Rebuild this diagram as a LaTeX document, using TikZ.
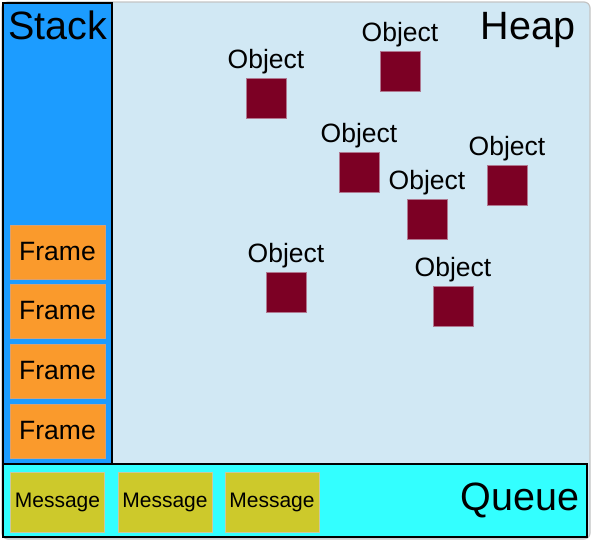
\documentclass[tikz,border=0pt]{standalone}
\usepackage{fontspec}
\setmainfont{Liberation Sans}
\definecolor{stackblue}{HTML}{1C9CFF}
\definecolor{heapblue}{HTML}{D1E8F4}
\definecolor{queuecyan}{HTML}{33FFFF}
\definecolor{frameorange}{HTML}{FA9A2C}
\definecolor{frameedge}{HTML}{D9A070}
\definecolor{msgyellow}{HTML}{CDC92B}
\definecolor{msgedge}{HTML}{C8C8A0}
\definecolor{objred}{HTML}{7C0024}
\definecolor{objedge}{HTML}{B07890}
\definecolor{outeredge}{HTML}{C4C4C4}
\begin{document}
\begin{tikzpicture}[x=1pt,y=-1pt,
  framebox/.style={draw=frameedge,line width=0.8pt,fill=frameorange,minimum width=95pt,minimum height=54pt,inner sep=0pt,font=\fontsize{26.5}{30}\selectfont},
  msgbox/.style={draw=msgedge,line width=0.8pt,fill=msgyellow,minimum width=94pt,minimum height=60pt,inner sep=0pt,font=\fontsize{21}{24}\selectfont},
  objbox/.style={draw=objedge,line width=0.6pt,fill=objred,minimum width=40pt,minimum height=40pt,inner sep=0pt},
  objlabel/.style={anchor=base,inner sep=0pt,font=\fontsize{26.5}{30}\selectfont},
  bigtitle/.style={anchor=base,inner sep=0pt,font=\fontsize{39.5}{44}\selectfont}]
\useasboundingbox (0,0) rectangle (594,542);
% heap / outer
\draw[outeredge,line width=1.2pt,fill=heapblue,rounded corners=6pt] (2,2) rectangle (590,539);
% stack
\draw[black,line width=1.8pt,fill=stackblue] (3,3) rectangle (112,464);
% queue
\draw[black,line width=1.8pt,fill=queuecyan] (3,464) rectangle (587,537);
% titles
\node[bigtitle] (stack) at (58,39) {Stack};
\node[bigtitle] (heap) at (528,39) {Heap};
\node[bigtitle] (queue) at (520,510) {Queue};
% frames
\node[framebox] (f1) at (57.5,252) {Frame};
\node[framebox] (f2) at (57.5,311) {Frame};
\node[framebox] (f3) at (57.5,371) {Frame};
\node[framebox] (f4) at (57.5,431) {Frame};
% messages
\node[msgbox] (m1) at (57.5,502) {Message};
\node[msgbox] (m2) at (165,502) {Message};
\node[msgbox] (m3) at (272,502) {Message};
% objects
\foreach \n/\x/\y in {1/266/98, 2/400/71, 3/359/172, 4/507/185, 5/427/219, 6/453/306, 7/286/292}{
  \node[objbox] (o\n) at (\x,\y) {};
  \node[objlabel] (ol\n) at (\x,\y-30) {Object};
}
\end{tikzpicture}
\end{document}
